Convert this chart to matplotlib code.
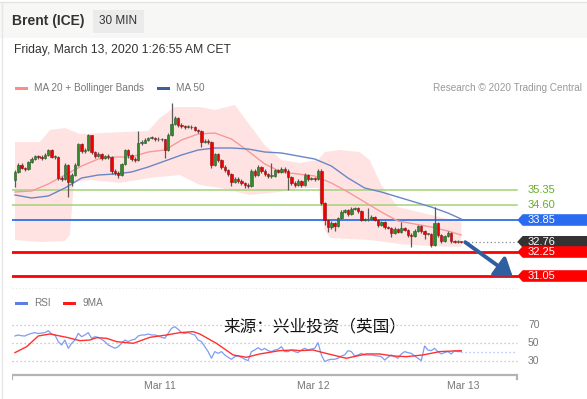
import matplotlib
matplotlib.use("Agg")
import matplotlib.pyplot as plt
from matplotlib.patches import Rectangle, Polygon, FancyArrowPatch
import numpy as np

plt.rcParams['font.family'] = ['Liberation Sans', 'DejaVu Sans']

# ---------------- data ----------------
opens = [35.85, 36.27, 36.60, 36.45, 36.40, 36.75, 36.90, 37.05, 36.98, 36.95,
         37.10, 37.35, 37.00, 37.00, 35.93, 35.90, 36.60, 35.75, 36.10, 36.60,
         37.63, 37.30, 37.35, 38.10, 37.25, 37.05, 37.15, 36.93, 37.05, 37.00,
         36.30, 36.20, 36.10, 36.65, 37.35, 37.10, 36.90, 36.85, 37.70, 37.72,
         37.85, 37.95, 37.95, 37.88, 37.90, 37.88, 37.35, 38.10, 38.65, 38.95,
         38.60, 38.55, 38.50, 38.52, 38.48, 38.35, 38.30, 37.77, 37.80, 37.75,
         36.60, 37.15, 36.85, 36.50, 36.35, 36.15, 35.75, 35.90, 35.80, 35.70,
         35.60, 35.55, 36.30, 36.10, 36.50, 36.30, 36.15, 36.05, 36.05, 36.35,
         36.25, 36.40, 36.30, 36.00, 35.70, 35.60, 35.80, 35.60, 36.10, 35.90,
         35.95, 35.90, 36.30, 34.68, 33.85, 33.50, 33.70, 33.55, 33.95, 34.27,
         34.35, 34.15, 34.40, 34.45, 34.30, 33.85, 33.88, 33.90, 34.00, 33.85,
         33.60, 33.75, 33.50, 33.45, 33.20, 33.40, 33.25, 33.45, 33.35, 33.10,
         33.05, 33.30, 33.55, 33.30, 33.15, 33.15, 32.60, 33.70, 33.10, 32.80,
         33.05, 33.20, 32.80, 32.75, 32.78]
closes = [36.27, 36.60, 36.45, 36.40, 36.75, 36.90, 37.05, 36.98, 36.95, 37.10,
          37.35, 37.00, 37.00, 35.93, 35.90, 36.60, 35.75, 36.10, 36.60, 37.63,
          37.30, 37.35, 38.10, 37.25, 37.05, 37.15, 36.93, 37.05, 37.00, 36.30,
          36.20, 36.10, 36.65, 37.35, 37.10, 36.90, 36.85, 37.70, 37.72, 37.85,
          37.95, 37.95, 37.88, 37.90, 37.88, 37.35, 38.10, 38.65, 38.95, 38.60,
          38.55, 38.50, 38.52, 38.48, 38.35, 38.30, 37.77, 37.80, 37.75, 36.60,
          37.15, 36.85, 36.50, 36.35, 36.15, 35.75, 35.90, 35.80, 35.70, 35.60,
          35.55, 36.30, 36.10, 36.50, 36.30, 36.15, 36.05, 36.05, 36.35, 36.25,
          36.40, 36.30, 36.00, 35.70, 35.60, 35.80, 35.60, 36.10, 35.90, 35.95,
          35.90, 36.30, 34.68, 33.85, 33.50, 33.70, 33.55, 33.95, 34.27, 34.35,
          34.15, 34.40, 34.45, 34.30, 33.85, 33.88, 33.90, 34.00, 33.85, 33.60,
          33.75, 33.50, 33.45, 33.20, 33.40, 33.25, 33.45, 33.35, 33.10, 33.05,
          33.30, 33.55, 33.30, 33.15, 33.15, 32.60, 33.70, 33.10, 32.80, 33.05,
          33.20, 32.80, 32.75, 32.78, 32.76]
highs = [36.35, 36.68, 36.70, 36.52, 36.82, 36.98, 37.10, 37.12, 37.08, 37.18,
         37.42, 37.40, 37.12, 37.05, 36.05, 36.68, 36.65, 36.20, 36.68, 37.70,
         37.68, 37.45, 38.15, 38.12, 37.30, 37.25, 37.20, 37.12, 37.15, 37.05,
         36.38, 36.28, 36.72, 37.42, 37.40, 37.15, 37.00, 38.30, 37.85, 37.95,
         38.02, 38.03, 38.00, 37.98, 37.96, 37.92, 38.18, 39.70, 39.05, 39.00,
         38.68, 38.62, 38.60, 38.58, 38.55, 38.42, 38.35, 37.90, 37.88, 37.80,
         37.22, 37.20, 36.92, 36.58, 36.40, 36.20, 36.00, 35.98, 35.88, 35.75,
         35.68, 36.38, 36.40, 36.58, 36.55, 36.38, 36.22, 36.70, 36.42, 36.42,
         36.48, 36.48, 36.38, 36.05, 35.78, 35.88, 35.85, 36.18, 36.15, 36.02,
         36.00, 36.42, 36.40, 34.75, 33.90, 33.78, 33.75, 34.02, 34.35, 34.42,
         34.40, 34.48, 34.52, 34.50, 34.35, 33.95, 34.45, 34.08, 34.05, 33.90,
         33.82, 33.80, 33.55, 33.50, 33.48, 33.45, 33.75, 33.52, 33.40, 33.18,
         33.38, 33.62, 33.60, 33.35, 33.22, 33.20, 34.52, 33.75, 33.15, 33.12,
         33.28, 33.25, 32.85, 32.85, 32.82]
lows = [35.50, 36.20, 36.38, 36.32, 36.35, 36.70, 36.85, 36.92, 36.85, 36.90,
        37.05, 36.95, 36.88, 35.85, 35.80, 35.85, 35.00, 35.55, 36.05, 36.55,
        37.20, 37.20, 37.30, 37.15, 36.95, 36.98, 36.85, 36.88, 36.90, 36.15,
        36.10, 35.95, 36.05, 36.60, 36.95, 36.80, 36.75, 36.80, 37.62, 37.68,
        37.80, 37.88, 37.82, 37.82, 37.80, 36.95, 37.30, 38.05, 38.60, 38.50,
        38.45, 38.42, 38.44, 38.40, 38.28, 38.22, 37.50, 37.70, 37.65, 36.45,
        36.55, 36.75, 36.40, 36.25, 36.05, 35.55, 35.70, 35.72, 35.62, 35.45,
        35.45, 35.50, 36.02, 36.05, 36.22, 36.05, 35.95, 35.95, 36.00, 36.18,
        36.20, 36.22, 35.35, 35.60, 35.50, 35.55, 35.50, 35.55, 35.82, 35.85,
        35.82, 35.85, 34.60, 33.60, 33.27, 33.40, 33.30, 33.50, 33.90, 34.20,
        34.05, 34.10, 34.35, 34.22, 33.78, 33.80, 33.82, 33.85, 33.78, 33.52,
        33.55, 33.42, 33.38, 33.00, 33.15, 33.18, 33.20, 33.28, 33.02, 32.50,
        33.00, 33.25, 33.22, 32.90, 33.08, 32.50, 32.55, 33.00, 32.70, 32.75,
        33.00, 32.72, 32.68, 32.70, 32.70]

# moving averages (sampled every 5 candles)
ma_idx = [0, 5, 10, 15, 20, 25, 30, 35, 40, 45, 50, 55, 60, 65, 70, 75, 80, 85,
          90, 95, 100, 105, 110, 115, 120, 125, 130, 134]
ma20 = [35.25, 35.30, 35.65, 36.10, 36.55, 36.90, 37.00, 37.00, 37.25, 37.35,
        37.85, 38.15, 38.20, 37.90, 37.30, 36.65, 36.25, 36.15, 36.05, 35.70,
        35.25, 34.75, 34.25, 33.80, 33.65, 33.50, 33.30, 33.10]
ma50 = [35.10, 34.95, 35.05, 35.45, 35.95, 36.10, 36.15, 36.25, 36.50, 36.80,
        37.10, 37.35, 37.45, 37.45, 37.40, 37.25, 37.20, 37.05, 36.90, 36.55,
        35.95, 35.45, 35.25, 35.00, 34.75, 34.50, 34.20, 33.90]

# Bollinger band envelope
bb_up_idx = [0, 7.5, 10.5, 15, 19.5, 40, 43.5, 48, 55.5, 60, 66, 70.5, 75, 80,
             85.5, 91, 93, 97.5, 103.5, 106.5, 110, 115, 120, 125, 130, 134]
bb_up = [37.75, 37.75, 38.35, 38.45, 38.15, 38.30, 38.95, 39.50, 39.50, 39.35,
         39.60, 38.60, 37.60, 36.85, 36.70, 36.85, 37.25, 37.35, 37.25, 36.85,
         35.60, 34.50, 34.30, 34.10, 33.90, 33.75]
bb_lo_idx = [0, 7.5, 15, 16.5, 17.7, 22.5, 31.5, 40.5, 49.5, 55.5, 61.5, 70.5,
             79.5, 85.5, 91, 93, 94.6, 106.6, 115.6, 124.6, 134]
bb_lo = [32.85, 32.75, 32.80, 33.10, 35.75, 35.85, 35.70, 35.95, 36.10, 35.60,
         35.45, 35.10, 35.25, 35.45, 35.45, 33.35, 32.95, 32.85, 32.65, 32.55,
         32.50]

# levels
green_levels = [35.35, 34.60]
pivot = 33.85
red_levels = [32.25, 31.05]
last_price = 32.76

# RSI
rsi = [57.8, 58.9, 58.0, 57.8, 59.5, 60.7, 61.5, 60.5, 61.0, 61.5,
       63.7, 60.0, 58.9, 51.5, 47.8, 53.3, 44.1, 49.6, 53.3, 60.7,
       57.0, 58.9, 61.5, 55.2, 57.0, 56.3, 54.1, 51.5, 47.8, 45.9,
       44.1, 45.9, 49.6, 53.3, 51.5, 53.3, 54.1, 57.8, 58.9, 58.9,
       60.0, 58.9, 58.9, 57.8, 56.3, 55.2, 60.7, 66.3, 68.1, 65.2,
       61.5, 60.7, 61.5, 60.0, 58.9, 53.3, 51.5, 45.9, 40.4, 33.0,
       40.4, 38.5, 40.4, 36.7, 34.1, 31.9, 34.8, 35.6, 34.1, 31.9,
       30.4, 40.4, 42.2, 44.8, 42.2, 43.9, 41.5, 40.4, 42.2, 43.0,
       45.9, 40.4, 40.4, 42.2, 40.4, 39.3, 42.2, 44.1, 42.2, 43.3,
       44.1, 50.4, 36.7, 29.3, 31.1, 31.9, 31.9, 33.0, 35.6, 36.7,
       41.5, 40.4, 35.6, 36.7, 38.5, 36.7, 36.7, 36.7, 35.9, 35.6,
       34.8, 31.1, 34.1, 36.7, 34.8, 33.0, 37.8, 40.4, 39.3, 38.5,
       35.6, 33.0, 30.4, 46.7, 42.2, 41.5, 44.1, 40.4, 37.8, 39.3,
       40.4, 37.8, 41.5, 40.4, 40.4]
ma9_idx = [0, 3.5, 7, 10.5, 15.5, 19.5, 22.5, 24.5, 27.5, 30.5, 35.5, 40.5,
           45.5, 49.5, 53.5, 55.5, 60.5, 65.5, 69.5, 73.5, 79.5, 83.5, 85.5,
           89.5, 92.5, 99.5, 105.5, 109.5, 113.5, 117.5, 122.5, 127.5, 134]
ma9 = [39.3, 45.9, 57.8, 60.0, 56.3, 52.6, 53.3, 55.9, 55.2, 51.5, 49.6, 56.3,
       58.9, 61.5, 62.6, 60.0, 49.6, 36.7, 34.1, 37.8, 41.5, 42.2, 41.5,
       42.2, 39.3, 33.0, 37.8, 37.8, 35.6, 34.8, 36.7, 40.4, 41.5]
rsi_levels = [70, 50, 30]

day_labels = ["Mar 11", "Mar 12", "Mar 13"]
day_pos = [43.5, 89.5, 134.5]

# ---------------- figure ----------------
W, H = 587, 399
fig = plt.figure(figsize=(W / 100, H / 100), dpi=100)
fig.patch.set_facecolor("white")

pix = fig.add_axes([0, 0, 1, 1], zorder=0)
pix.set_xlim(0, W)
pix.set_ylim(H, 0)
pix.axis("off")

# header
pix.add_patch(Rectangle((0, 2), W, 36, facecolor="#f7f8f5", edgecolor="none"))
pix.plot([0, W], [2, 2], color="#e4e4e4", lw=1)
pix.plot([1.5, 1.5], [2, H], color="#e6e6e6", lw=1)
pix.add_patch(Rectangle((92.5, 9.5), 51, 23, facecolor="#ebebeb", edgecolor="none"))
pix.text(12, 21, "Brent (ICE)", fontsize=10, fontweight="bold", color="#333333",
         va="center", ha="left")
pix.text(118, 21, "30 MIN", fontsize=8.5, color="#333333", va="center", ha="center")
pix.text(14, 50, "Friday, March 13, 2020 1:26:55 AM CET", fontsize=8.7,
         color="#333333", va="center", ha="left")

# legends
pix.add_patch(Rectangle((15, 86.5), 13, 3.5, facecolor="#ff8a8a", edgecolor="none"))
pix.text(34, 88.3, "MA 20 + Bollinger Bands", fontsize=7.2, color="#777777", va="center")
pix.add_patch(Rectangle((157, 86.5), 13, 3.5, facecolor="#3d5f9e", edgecolor="none"))
pix.text(176.5, 88.3, "MA 50", fontsize=7.2, color="#777777", va="center")
pix.text(582, 88.3, "Research \u00a9 2020 Trading Central", fontsize=7.2,
         color="#999999", va="center", ha="right")

pix.add_patch(Rectangle((15, 301.5), 13, 3.5, facecolor="#5b7fe6", edgecolor="none"))
pix.text(34, 303.2, "RSI", fontsize=7.2, color="#777777", va="center")
pix.add_patch(Rectangle((63, 301.5), 13, 3.5, facecolor="#ff1a1a", edgecolor="none"))
pix.text(82.5, 303.2, "9MA", fontsize=7.2, color="#777777", va="center")
pix.plot([12, 517], [288, 288], color="#e8e8e8", lw=0.8, ls=(0, (1, 2)))

# ---------------- main price axes ----------------
X0 = -0.9       # index at left edge of plot area
XR = 150.75     # index at right end of plot area
XMAX = 171.77   # index at figure right edge
ax = fig.add_axes([12 / W, 1 - 290 / H, (W - 12) / W, 195 / H], zorder=2)
ax.set_xlim(X0, XMAX)
ax.set_ylim(30.35, 40.1)
ax.axis("off")
ax.patch.set_alpha(0)

# Bollinger envelope
poly_x = list(bb_up_idx) + list(bb_lo_idx[::-1])
poly_y = list(bb_up) + list(bb_lo[::-1])
ax.add_patch(Polygon(np.column_stack([poly_x, poly_y]), closed=True,
                     facecolor="#ffe3e3", edgecolor="none", zorder=1))

# horizontal levels
for lv in green_levels:
    ax.plot([X0, XR], [lv, lv], color="#a5d27a", lw=1.1, zorder=2)
ax.plot([X0, XR], [pivot, pivot], color="#3d7be6", lw=1.4, zorder=2)
for lv in red_levels:
    ax.plot([X0, XR], [lv, lv], color="#ff0000", lw=2, zorder=2)

# MAs
ax.plot(ma_idx, ma20, color="#f59a9a", lw=1, zorder=3)
ax.plot(ma_idx, ma50, color="#6a86c4", lw=1, zorder=3)

# candles
idx = np.arange(len(closes))
o = np.array(opens); c = np.array(closes)
hi = np.array(highs); lo = np.array(lows)
up = c >= o
ax.vlines(idx, lo, hi, color="#5a5a5a", lw=0.9, zorder=4)
body_h = np.where(np.abs(c - o) < 0.03, 0.03, np.abs(c - o))
body_b = np.minimum(o, c)
ax.bar(idx[up], body_h[up], bottom=body_b[up], width=0.72, color="#2e8b2e",
       edgecolor="#2a5a2a", linewidth=0.4, zorder=5)
ax.bar(idx[~up], body_h[~up], bottom=body_b[~up], width=0.72, color="#ee0000",
       edgecolor="#8a1010", linewidth=0.4, zorder=5)

# last price dotted line
ax.plot([idx[-1] + 0.8, XR], [last_price, last_price], color="#888888",
        lw=0.9, ls=(0, (1, 2)), zorder=3)

# forecast arrow
ax.add_patch(FancyArrowPatch((idx[-1] + 1.2, last_price - 0.02),
                             (XR - 1.3, red_levels[1] - 0.02),
                             arrowstyle="-|>,head_length=4.5,head_width=3.2",
                             mutation_scale=2.2, color="#2f5f9f", lw=2.8,
                             zorder=6, shrinkA=0, shrinkB=0))

# price tags
half = 0.29
def tag(level, color, z):
    pts = [(XR + 0.1, level), (XR + 1.7, level + half), (XMAX + 1, level + half),
           (XMAX + 1, level - half), (XR + 1.7, level - half)]
    ax.add_patch(Polygon(pts, closed=True, facecolor=color, edgecolor="none",
                         zorder=z, clip_on=False))
    ax.text(XR + 3.3, level, f"{level:.2f}", color="white", fontsize=8,
            va="center", ha="left", zorder=z + 0.5, clip_on=False)

for lv in green_levels:
    ax.text(XR + 3.3, lv, f"{lv:.2f}", color="#66ad2a", fontsize=8,
            va="center", ha="left")
tag(pivot, "#2a6cf0", 7)
tag(last_price, "#333333", 7)
tag(red_levels[0], "#ff0000", 8)
tag(red_levels[1], "#ff0000", 8)

# ---------------- RSI axes ----------------
rx = fig.add_axes([12 / W, 1 - 395 / H, (W - 12) / W, 80 / H], zorder=2)
rx.set_xlim(X0, XMAX)
rx.set_ylim(-7.8, 81.1)
rx.axis("off")
rx.patch.set_alpha(0)

for lv in rsi_levels:
    rx.plot([X0, XR], [lv, lv], color="#bbbbbb", lw=0.9, ls=(0, (1, 2.2)))
    rx.text(XR + 3.3, lv, str(lv), color="#777777", fontsize=7.5, va="center")
rx.plot(idx, rsi, color="#7f9cf0", lw=0.9, zorder=3)
rx.plot(ma9_idx, ma9, color="#ff3030", lw=1.0, zorder=4)
rx.plot([idx[-1], XR], [rsi[-1], rsi[-1]], color="#a8b8f0", lw=0.9,
        ls=(0, (1, 2.2)), zorder=3)

# x axis bracket
rx.plot([X0, XR], [14.4, 14.4], color="#b3b3b3", lw=1.6, solid_capstyle="butt")
rx.plot([X0, X0], [14.4, 9.5], color="#b3b3b3", lw=1.6)
rx.plot([XR, XR], [14.4, 9.5], color="#b3b3b3", lw=1.6)
for lab, p in zip(day_labels, day_pos):
    rx.text(p, 2.2, lab, color="#777777", fontsize=7.5, ha="center", va="center")

pix.text(223, 326.5, "来源：兴业投资（英国）", fontsize=12, color="#111111",
         va="center", ha="left", family=["Noto Sans CJK SC", "DejaVu Sans"],
         zorder=10)

fig.savefig("out.png", dpi=100, facecolor="white")
